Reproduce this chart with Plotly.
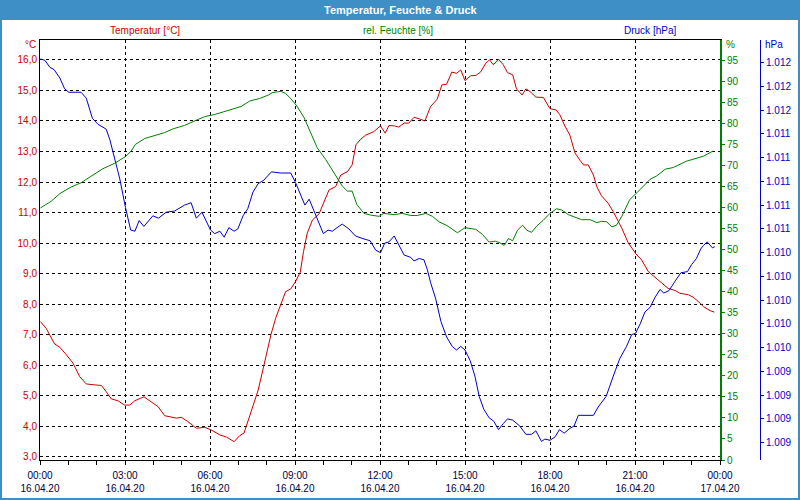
import plotly.graph_objects as go
import pandas as pd

# ---- data (minutes after 16.04.20 00:00, values) ----
temp_min = [1, 13, 31, 42, 56, 70, 84, 98, 116, 130, 140, 151, 165, 179, 190, 201, 220, 236, 250, 264,
            278, 289, 299, 313, 331, 349, 363, 381, 395, 411, 423, 432, 447, 462, 472, 489, 499, 510, 520, 531,
            541, 551, 558, 566, 577, 591, 601, 612, 626, 637, 651, 661, 669, 679, 690, 707, 721, 731, 739, 750,
            760, 771, 781, 792, 803, 815, 827, 841, 851, 861, 872, 882, 891, 900, 912, 923, 933, 944, 952, 960,
            971, 981, 990, 1001, 1009, 1021, 1029, 1038, 1050, 1066, 1080, 1093, 1101, 1112, 1122, 1133, 1144, 1151, 1161, 1172,
            1179, 1189, 1203, 1214, 1232, 1246, 1262, 1274, 1288, 1309, 1330, 1345, 1355, 1373, 1383, 1394, 1405, 1419, 1428]
temp_val = [7.43, 7.21, 6.70, 6.59, 6.34, 6.07, 5.63, 5.39, 5.36, 5.34, 5.14, 4.90, 4.84, 4.70, 4.70, 4.84, 4.97, 4.81, 4.65, 4.35,
            4.30, 4.27, 4.30, 4.16, 3.94, 3.97, 3.88, 3.72, 3.65, 3.50, 3.70, 3.78, 4.48, 5.19, 5.85, 7.00, 7.54, 8.03, 8.41, 8.50,
            8.74, 9.04, 9.72, 10.33, 10.76, 10.96, 11.31, 11.74, 11.85, 12.23, 12.34, 12.56, 13.22, 13.40, 13.54, 13.65, 13.84, 13.60, 13.85, 13.84,
            13.80, 13.93, 13.93, 14.12, 14.07, 14.00, 14.47, 14.71, 15.18, 15.20, 15.60, 15.56, 15.67, 15.32, 15.48, 15.49, 15.60, 15.89, 16.00, 15.84,
            16.02, 15.84, 15.58, 15.51, 15.05, 14.85, 15.05, 14.96, 14.78, 14.77, 14.40, 14.36, 14.20, 13.82, 13.54, 12.95, 12.70, 12.56, 12.56, 12.23,
            11.85, 11.55, 11.31, 11.03, 10.49, 10.00, 9.65, 9.45, 9.07, 8.80, 8.52, 8.45, 8.36, 8.31, 8.23, 8.09, 7.92, 7.79, 7.74]

hum_min = [1, 24, 42, 63, 87, 109, 133, 158, 181, 193, 202, 222, 246, 264, 282, 306, 328, 349, 370, 398,
           426, 444, 465, 483, 492, 510, 520, 531, 544, 559, 573, 587, 605, 623, 640, 651, 661, 671, 686, 700,
           718, 728, 750, 767, 785, 799, 817, 831, 845, 862, 884, 900, 923, 937, 951, 964, 974, 983, 992, 1001,
           1011, 1022, 1031, 1041, 1052, 1066, 1080, 1094, 1105, 1119, 1137, 1147, 1165, 1179, 1189, 1200, 1211, 1221, 1232, 1249,
           1264, 1278, 1292, 1306, 1324, 1341, 1355, 1369, 1387, 1405, 1425]
hum_val = [59.9, 61.5, 63.3, 64.7, 65.9, 67.5, 69.2, 70.5, 72.1, 73.4, 75.0, 76.4, 77.1, 77.8, 78.7, 79.5, 80.6, 81.6, 82.1, 83.1,
           84.0, 85.3, 85.9, 86.7, 87.3, 87.6, 87.1, 85.9, 84.1, 81.4, 77.8, 74.2, 71.4, 68.3, 65.1, 63.9, 63.9, 60.7, 58.6, 58.2,
           57.9, 58.6, 58.3, 58.6, 58.1, 58.1, 58.6, 57.9, 56.6, 55.7, 54.0, 55.2, 54.8, 53.6, 51.8, 52.0, 51.6, 51.0, 52.6, 52.1,
           54.6, 55.8, 54.6, 54.1, 55.6, 57.0, 58.6, 59.7, 59.4, 58.3, 57.6, 57.1, 57.1, 56.4, 56.7, 56.6, 55.4, 55.8, 57.9, 61.9,
           63.5, 65.1, 66.7, 67.5, 69.1, 69.5, 70.2, 71.0, 71.6, 72.2, 73.4]

pres_min = [1, 10, 21, 30, 42, 52, 61, 87, 98, 105, 111, 123, 140, 148, 158, 169, 181, 192, 201, 210,
            220, 239, 251, 267, 285, 306, 320, 331, 343, 352, 361, 370, 381, 390, 400, 411, 419, 430, 440, 451,
            462, 474, 490, 510, 531, 541, 551, 561, 570, 580, 591, 600, 610, 619, 629, 640, 654, 668, 682, 699,
            711, 721, 730, 739, 750, 760, 771, 785, 792, 803, 813, 820, 827, 838, 849, 861, 873, 882, 891, 900,
            911, 921, 930, 940, 951, 961, 971, 981, 990, 1001, 1016, 1029, 1041, 1050, 1062, 1069, 1080, 1091, 1100, 1110,
            1122, 1131, 1140, 1152, 1172, 1182, 1199, 1214, 1228, 1242, 1253, 1261, 1271, 1281, 1292, 1302, 1313, 1321, 1332, 1345,
            1357, 1371, 1380, 1390, 1399, 1405, 1413, 1424, 1429]
pres_val = [1012.03, 1012.02, 1011.96, 1011.94, 1011.87, 1011.78, 1011.75, 1011.75, 1011.70, 1011.60, 1011.53, 1011.48, 1011.44, 1011.35, 1011.19, 1011.02, 1010.78, 1010.59, 1010.58, 1010.67,
            1010.62, 1010.71, 1010.69, 1010.74, 1010.75, 1010.80, 1010.82, 1010.69, 1010.74, 1010.67, 1010.59, 1010.56, 1010.58, 1010.53, 1010.61, 1010.58, 1010.60, 1010.71, 1010.77, 1010.91,
            1010.98, 1011.01, 1011.08, 1011.07, 1011.07, 1010.99, 1010.90, 1010.80, 1010.85, 1010.75, 1010.64, 1010.56, 1010.59, 1010.58, 1010.61, 1010.64, 1010.60, 1010.54, 1010.52, 1010.50,
            1010.42, 1010.40, 1010.48, 1010.49, 1010.54, 1010.46, 1010.38, 1010.36, 1010.33, 1010.35, 1010.34, 1010.26, 1010.15, 1010.01, 1009.82, 1009.69, 1009.61, 1009.58, 1009.61, 1009.58,
            1009.49, 1009.36, 1009.19, 1009.08, 1009.01, 1008.98, 1008.91, 1008.96, 1009.00, 1008.99, 1008.94, 1008.87, 1008.87, 1008.90, 1008.81, 1008.83, 1008.82, 1008.85, 1008.91, 1008.88,
            1008.92, 1008.94, 1009.03, 1009.03, 1009.03, 1009.10, 1009.19, 1009.36, 1009.51, 1009.61, 1009.71, 1009.72, 1009.80, 1009.90, 1009.94, 1010.02, 1010.09, 1010.06, 1010.08, 1010.16,
            1010.23, 1010.24, 1010.30, 1010.35, 1010.43, 1010.46, 1010.49, 1010.44, 1010.45]

title_text = "Temperatur, Feuchte & Druck"
series_names = ["Temperatur [°C]", "rel. Feuchte [%]", "Druck [hPa]"]
unit_labels = ["°C", "%", "hPa"]

RED = "#cc0000"
GREEN = "#008000"
BLUE = "#0000cc"
FRAME = "#3d8fc6"
FONT = "Liberation Sans"

base = pd.Timestamp("2020-04-16 00:00")


def to_time(mins):
    return [base + pd.Timedelta(minutes=m) for m in mins]


fig = go.Figure()
fig.add_trace(go.Scatter(x=to_time(hum_min), y=hum_val, mode="lines", yaxis="y2",
                         line=dict(color=GREEN, width=1), name=series_names[1]))
fig.add_trace(go.Scatter(x=to_time(pres_min), y=pres_val, mode="lines", yaxis="y3",
                         line=dict(color=BLUE, width=1), name=series_names[2]))
fig.add_trace(go.Scatter(x=to_time(temp_min), y=temp_val, mode="lines", yaxis="y",
                         line=dict(color=RED, width=1), name=series_names[0]))

# plot area: x 40..720 px (domain), blue axis at 760 px; y 40..460 px
W = 720.0


def px(x):
    return (x - 40) / W


def py(y):
    return (460 - y) / 420.0


fig.update_layout(
    width=800, height=500,
    margin=dict(l=40, r=40, t=40, b=40, pad=0, autoexpand=False),
    paper_bgcolor="white", plot_bgcolor="white",
    showlegend=False,
    separators=",.",
    font=dict(family=FONT, size=10, color="#000040"),
    xaxis=dict(
        domain=[0, 680 / W], automargin=False,
        type="date",
        range=[base, base + pd.Timedelta(hours=24)],
        tick0=base, dtick=3 * 3600 * 1000,
        tickformat="%H:%M<br>%d.%m.%y",
        ticks="outside", ticklen=4, tickcolor="black",
        ticklabelstandoff=2,
        minor=dict(dtick=3600 * 1000, ticks="outside", ticklen=4, tickcolor="black", showgrid=False),
        showline=True, linecolor="black", linewidth=1, mirror=True,
        showgrid=True, gridcolor="black", griddash="3px,3px", gridwidth=1,
        zeroline=False,
        tickfont=dict(family=FONT, size=10, color="#000040"),
    ),
    yaxis=dict(
        range=[2.90, 16.65], tick0=3, dtick=1, tickformat=".1f", automargin=False,
        showline=True, linecolor="black", linewidth=1,
        showgrid=True, gridcolor="black", griddash="3px,3px", gridwidth=1,
        zeroline=False, ticks="",
        tickfont=dict(family=FONT, size=10, color=RED),
    ),
    yaxis2=dict(
        overlaying="y", side="right", anchor="x", automargin=False,
        range=[0, 99.8], tick0=0, dtick=5,
        showline=True, linecolor=GREEN, linewidth=2,
        showgrid=False, zeroline=False,
        ticks="outside", ticklen=3, tickcolor=GREEN,
        tickfont=dict(family=FONT, size=10, color=GREEN),
    ),
    yaxis3=dict(
        overlaying="y", side="right", anchor="free", position=1.0, automargin=False,
        range=[1008.654, 1012.19], tick0=1008.8, dtick=0.2, tickformat=",.0f",
        showline=True, linecolor=BLUE, linewidth=1,
        showgrid=False, zeroline=False,
        ticks="outside", ticklen=3, tickcolor=BLUE,
        tickfont=dict(family=FONT, size=10, color=BLUE),
    ),
)

# frame: title bar and border
fig.add_shape(type="rect", xref="paper", yref="paper",
              x0=px(0), x1=px(800), y0=py(20), y1=py(0),
              fillcolor=FRAME, line=dict(width=0), layer="below")
fig.add_shape(type="rect", xref="paper", yref="paper",
              x0=px(0), x1=px(800), y0=py(500), y1=py(0),
              fillcolor="rgba(0,0,0,0)", line=dict(color=FRAME, width=4), layer="above")

fig.add_annotation(text="<b>" + title_text + "</b>", xref="paper", yref="paper",
                   x=px(400), y=py(10), showarrow=False, xanchor="center", yanchor="middle",
                   font=dict(family=FONT, size=11, color="white"))

for name, xc, col in zip(series_names, [145, 398, 650], [RED, GREEN, BLUE]):
    fig.add_annotation(text=name, xref="paper", yref="paper", x=px(xc), y=py(30),
                       showarrow=False, xanchor="center", yanchor="middle",
                       font=dict(family=FONT, size=10, color=col))

fig.add_annotation(text=unit_labels[0], xref="paper", yref="paper", x=px(38), y=py(45),
                   showarrow=False, xanchor="right", yanchor="middle",
                   font=dict(family=FONT, size=10, color=RED))
fig.add_annotation(text=unit_labels[1], xref="paper", yref="paper", x=px(724), y=py(45),
                   showarrow=False, xanchor="left", yanchor="middle",
                   font=dict(family=FONT, size=10, color=GREEN))
fig.add_annotation(text=unit_labels[2], xref="paper", yref="paper", x=px(763), y=py(45),
                   showarrow=False, xanchor="left", yanchor="middle",
                   font=dict(family=FONT, size=10, color=BLUE))

fig.write_html("out.html")
